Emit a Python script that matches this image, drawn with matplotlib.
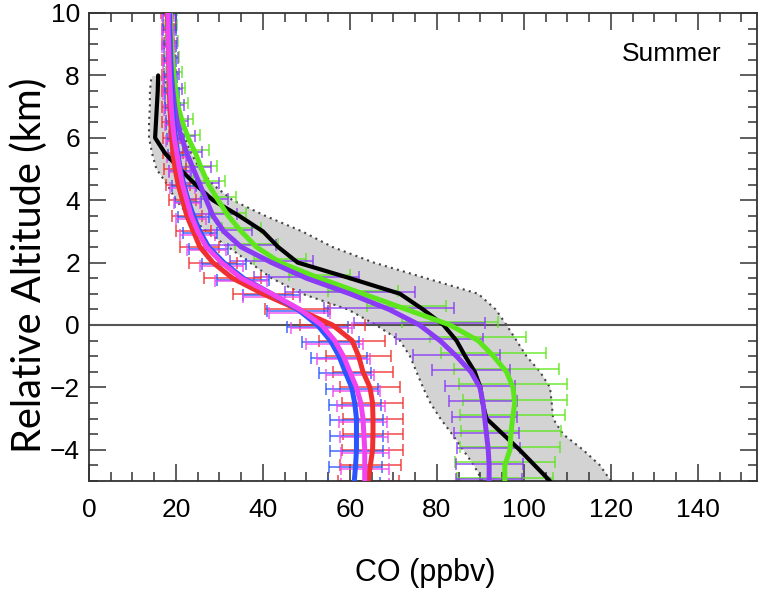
import numpy as np
import matplotlib
matplotlib.use("Agg")
import matplotlib.pyplot as plt
from matplotlib.ticker import MultipleLocator

# ---- data (altitude levels every 0.5 km from -5 to 10) ----
alt = [-5.0, -4.5, -4.0, -3.5, -3.0, -2.5, -2.0, -1.5, -1.0, -0.5, 0.0, 0.5, 1.0, 1.5, 2.0, 2.5,
       3.0, 3.5, 4.0, 4.5, 5.0, 5.5, 6.0, 6.5, 7.0, 7.5, 8.0, 8.5, 9.0, 9.5, 10.0]

green = [95.6, 95.6, 96.8, 97.0, 97.4, 97.9, 97.5, 96.0, 93.0, 89.5, 83.0, 73.0, 63.0, 53.0, 44.0, 38.5,
         35.0, 32.0, 29.7, 27.5, 25.9, 24.5, 22.8, 21.5, 20.5, 20.0, 19.5, 19.2, 19.0, 18.8, 18.7]
green_err = [11.0, 11.5, 11.5, 11.5, 12.0, 12.0, 12.5, 12.0, 12.0, 11.0, 11.0, 9.0, 8.0, 7.0, 6.0, 5.0,
             4.5, 4.0, 4.0, 3.7, 3.5, 3.0, 2.7, 2.5, 2.2, 2.0, 1.8, 1.6, 1.5, 1.5, 1.5]

purple = [92.0, 92.0, 91.8, 91.4, 91.0, 90.6, 89.9, 87.8, 84.5, 80.7, 76.0, 69.0, 60.0, 50.0, 42.0, 35.0,
          31.0, 28.5, 27.0, 25.5, 24.0, 22.5, 21.3, 20.3, 19.7, 19.3, 19.0, 18.8, 18.7, 18.6, 18.5]
purple_err = [7.5, 7.7, 7.2, 7.5, 7.5, 7.8, 8.0, 9.0, 10.0, 10.0, 15.0, 15.0, 15.0, 12.0, 9.5, 8.0,
              6.5, 5.5, 5.0, 4.5, 4.0, 3.5, 3.0, 2.5, 2.2, 2.0, 1.8, 1.6, 1.5, 1.5, 1.5]

red = [64.2, 64.7, 65.2, 65.3, 65.3, 65.2, 64.6, 63.0, 62.0, 60.5, 56.0, 48.0, 40.0, 33.0, 28.5, 25.5,
       24.0, 22.5, 21.5, 20.5, 19.8, 19.3, 19.0, 18.8, 18.6, 18.5, 18.4, 18.3, 18.2, 18.1, 18.0]
red_err = [7.0, 7.0, 7.0, 7.0, 7.0, 7.0, 7.0, 7.0, 7.5, 7.5, 7.5, 7.5, 7.0, 6.5, 5.5, 4.5,
           4.0, 3.5, 3.0, 2.8, 2.5, 2.3, 2.0, 2.0, 1.8, 1.6, 1.5, 1.4, 1.4, 1.4, 1.4]

blue = [61.0, 61.3, 61.5, 61.5, 61.5, 61.1, 60.4, 58.9, 57.5, 55.5, 52.5, 48.0, 42.0, 35.5, 31.0, 27.5,
        25.5, 24.0, 22.8, 21.8, 21.0, 20.4, 19.9, 19.5, 19.2, 19.0, 18.8, 18.7, 18.6, 18.5, 18.5]
blue_err = [6.0, 6.0, 6.0, 6.0, 6.0, 6.0, 6.0, 6.0, 6.5, 6.5, 7.0, 7.0, 6.5, 6.0, 5.0, 4.5,
            4.0, 3.5, 3.0, 2.8, 2.5, 2.2, 2.0, 1.8, 1.7, 1.6, 1.5, 1.4, 1.4, 1.4, 1.4]

magenta = [63.4, 63.4, 63.4, 63.2, 63.0, 62.5, 61.5, 60.0, 58.5, 56.5, 53.5, 48.5, 42.0, 35.0, 30.5, 27.0,
           25.0, 23.5, 22.5, 21.5, 20.8, 20.2, 19.6, 19.2, 18.9, 18.7, 18.5, 18.4, 18.3, 18.2, 18.2]
magenta_err = [5.5, 5.5, 5.5, 5.5, 5.5, 5.5, 5.5, 5.5, 6.0, 6.5, 7.0, 7.0, 6.5, 6.0, 5.0, 4.5,
               4.0, 3.5, 3.0, 2.8, 2.5, 2.2, 2.0, 1.8, 1.7, 1.6, 1.5, 1.4, 1.4, 1.4, 1.4]

# black median profile and grey envelope (levels -5 .. 8 km)
alt_blk = [-5.0, -4.5, -4.0, -3.5, -3.0, -2.5, -2.0, -1.5, -1.0, -0.5, 0.0, 0.5, 1.0, 1.5, 2.0, 2.5,
           3.0, 3.5, 4.0, 4.5, 5.0, 5.5, 6.0, 6.5, 7.0, 7.5, 8.0]
black = [106.0, 102.5, 99.0, 95.2, 91.4, 90.5, 90.0, 88.7, 86.5, 84.5, 81.5, 76.8, 71.5, 60.0, 48.0, 43.5,
         40.0, 34.5, 28.5, 24.5, 20.9, 17.5, 15.2, 15.4, 15.6, 15.8, 15.9]
env_lo = [90.5, 88.5, 86.0, 83.5, 80.8, 78.5, 76.8, 75.3, 73.8, 71.5, 66.0, 59.5, 49.0, 42.0, 37.0, 32.0,
          27.0, 23.0, 20.0, 18.0, 15.5, 14.5, 13.8, 13.8, 14.0, 14.0, 14.4]
env_hi = [120.0, 117.5, 113.6, 109.0, 106.7, 106.4, 106.0, 103.7, 100.6, 98.3, 96.0, 93.5, 89.5, 77.5, 65.5, 56.0,
          49.0, 40.5, 33.0, 28.5, 25.5, 23.5, 22.0, 20.0, 19.0, 18.0, 17.5]

season = "Summer"
xticks = [0, 20, 40, 60, 80, 100, 120, 140]
yticks = [-4, -2, 0, 2, 4, 6, 8, 10]

# ---- figure ----
W, H = 761, 590
fig = plt.figure(figsize=(W / 100, H / 100), dpi=100)
ax = fig.add_axes([89 / W, 1 - 481 / H, (757 - 89) / W, (481 - 13) / H])

tick_font = "Liberation Sans"

ax.fill_betweenx(alt_blk, env_lo, env_hi, color="#d3d3d3", lw=0, zorder=1)
ax.plot(env_lo, alt_blk, color="#444444", lw=1.5, ls=(0, (1, 2.0)), zorder=1.5)
ax.plot(env_hi, alt_blk, color="#444444", lw=1.5, ls=(0, (1, 2.0)), zorder=1.5)

ax.axhline(0, color="#555555", lw=1.5, zorder=1.6)

series = [
    (green, green_err, "#5ee61c", 0.10),
    (purple, purple_err, "#8a3cf5", 0.05),
    (red, red_err, "#f03030", 0.0),
    (blue, blue_err, "#2a55ff", -0.05),
    (magenta, magenta_err, "#f044f0", -0.10),
]
alt_arr = np.array(alt)
for vals, err, col, off in series:
    ax.errorbar(vals, alt_arr + off, xerr=err, fmt="none", ecolor=col, elinewidth=1.3,
                capsize=4, capthick=1.3, alpha=0.75, zorder=2)

ax.plot(black, alt_blk, color="black", lw=3.0, zorder=3, solid_capstyle="round")
z = 4
for vals, err, col, off in series:
    ax.plot(vals, alt, color=col, lw=3.6, zorder=z, solid_capstyle="round")
    z += 1

ax.set_xlim(0, 153.6)
ax.set_ylim(-5, 10)
ax.set_xticks(xticks)
ax.set_yticks(yticks)
ax.xaxis.set_minor_locator(MultipleLocator(5))
ax.yaxis.set_minor_locator(MultipleLocator(0.5))
ax.tick_params(which="both", direction="in", top=True, right=True, width=1.1, color="#333333")
ax.tick_params(which="major", length=12)
ax.tick_params(which="minor", length=6.5)
ax.tick_params(axis="x", which="major", pad=12, labelsize=19)
ax.tick_params(axis="y", which="major", pad=6.5, labelsize=19)
for lab in ax.get_xticklabels() + ax.get_yticklabels():
    lab.set_fontfamily(tick_font)
for s in ax.spines.values():
    s.set_color("#333333")
    s.set_linewidth(1.3)

ax.text(134, 8.7, season, fontsize=19, family=tick_font, ha="center", va="center")

fig.text(425 / W, 1 - 573 / H, "CO (ppbv)", fontsize=22, family=tick_font, ha="center", va="center")

yl = fig.text(29 / W, 1 - 265 / H, "Relative Altitude (km)", fontsize=28, family="Lato",
              rotation=90, ha="center", va="center")
r = fig.canvas.get_renderer()
bb = yl.get_window_extent(r)
yl.set_fontsize(28 * 376 / bb.height)

fig.savefig("out.png", dpi=100)
